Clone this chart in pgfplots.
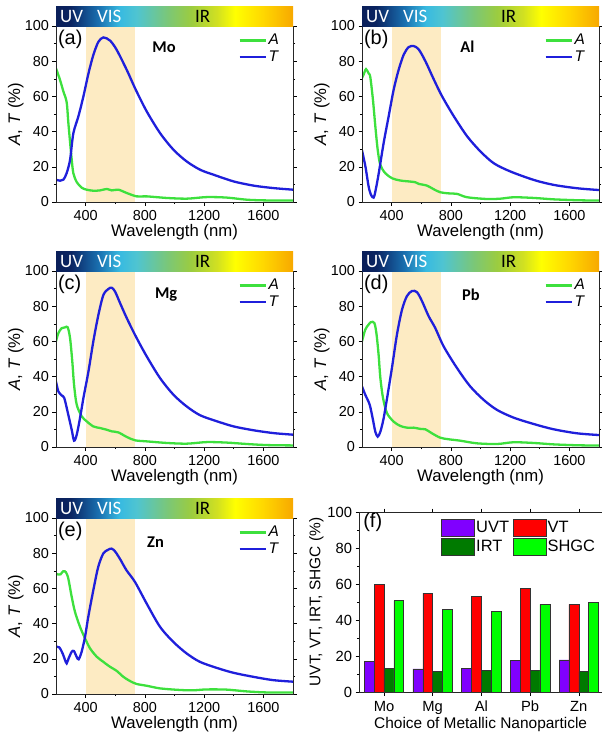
\documentclass[border=0pt]{standalone}
\usepackage{fontspec}
\setmainfont{Liberation Sans}
\newfontfamily\carl{Carlito}
\usepackage{pgfplots}
\pgfplotsset{compat=1.18}

\definecolor{Agreen}{HTML}{3DE03D}
\definecolor{Tblue}{HTML}{1F1FDB}
\definecolor{band}{HTML}{FDEBC3}
\definecolor{uvt}{HTML}{8000FF}
\definecolor{vt}{HTML}{FF0000}
\definecolor{irt}{HTML}{007A00}
\definecolor{shgc}{HTML}{00FF00}

% spectrum bar above each spectrum panel
\pgfdeclarehorizontalshading{spectrum}{100bp}{
  rgb(0bp)=(0.04,0.12,0.35); rgb(25bp)=(0.04,0.12,0.35);
  rgb(28bp)=(0.04,0.14,0.38); rgb(31bp)=(0.07,0.29,0.54);
  rgb(34bp)=(0.10,0.44,0.69); rgb(38.5bp)=(0.22,0.73,0.88);
  rgb(42bp)=(0.31,0.77,0.82); rgb(48.5bp)=(0.48,0.78,0.47);
  rgb(53.5bp)=(0.61,0.80,0.25); rgb(59bp)=(0.82,0.88,0.13);
  rgb(62.75bp)=(1,1,0); rgb(68.5bp)=(1,0.85,0);
  rgb(75bp)=(0.97,0.66,0); rgb(100bp)=(0.97,0.66,0)}

\newcommand{\specbar}[2]{%
  \begin{scope}[shift={(#1bp,-#2bp)}]
    \shade[shading=spectrum] (0,0) rectangle (237bp,20bp);
    \node[anchor=base west, inner sep=0, text=white, font=\carl\fontsize{19}{19}\selectfont] at (4bp,3.5bp) {UV};
    \node[anchor=base west, inner sep=0, text=white, font=\carl\fontsize{19}{19}\selectfont] at (41bp,3.5bp) {VIS};
    \node[anchor=base west, inner sep=0, text=black, font=\carl\fontsize{19}{19}\selectfont] at (139bp,3.5bp) {IR};
  \end{scope}}

\tikzset{
  plab/.style={font=\fontsize{20}{20}\selectfont, anchor=west, inner sep=0},
  mlab/.style={font=\carl\bfseries\fontsize{16.5}{17}\selectfont, inner sep=0},
}

\pgfplotsset{
  lineax/.style={
    scale only axis, width=237bp, height=176bp, anchor=south west,
    xmin=200, xmax=1800, ymin=0, ymax=100,
    xtick={400,800,1200,1600}, ytick={0,20,...,100},
    minor x tick num=1, minor y tick num=1,
    tick align=outside, major tick length=3.5bp, minor tick length=2bp,
    tick style={black, line width=0.6bp},
    axis line style={line width=0.8bp, black!85},
    axis on top,
    ticklabel style={font=\fontsize{14.5}{15}\selectfont},
    xticklabel style={yshift=-1bp},
    /pgf/number format/assume math mode=true,
    /pgf/number format/1000 sep={},
    label style={font=\fontsize{16.8}{17}\selectfont},
    xlabel={Wavelength (nm)}, ylabel={\textit{A}, \textit{T} (\%)},
    xlabel style={at={(axis description cs:0.5,-0.172)}, anchor=center},
    ylabel style={at={(axis description cs:-0.17,0.5)}, anchor=center},
    legend style={at={(axis description cs:0.95,0.965)}, anchor=north east,
      draw=none, fill=none, font=\fontsize{15.5}{15.5}\selectfont\itshape,
      inner sep=0pt, row sep=0.5bp, nodes={inner sep=2bp}, cells={anchor=west}},
    legend image code/.code={\draw[#1] (0bp,0bp) -- (26bp,0bp);},
  },
  Aline/.style={Agreen, line width=2.3bp, smooth, tension=0.5},
  Tline/.style={Tblue, line width=2.3bp, smooth, tension=0.5},
  bandfill/.style={fill=band, draw=none, forget plot},
}

\begin{document}
\begin{tikzpicture}
\path[use as bounding box] (0,0) rectangle (602bp,-733bp);

% (a) Mo
\begin{axis}[lineax, at={(56bp,-202bp)}]
\addplot[bandfill] coordinates {(400,100) (735,100)} \closedcycle;
\addplot[Aline] coordinates {(200,76)(227,69.4)(250,62.8)(272,56.7)(283,45.4)(295,34)(306,24.2)(317,16.4)(340,11.3)(374,8.1)(407,7)(452,6.4)(497,6.6)(543,7.4)(576,6.6)(621,7)(678,5.1)(745,3.2)(813,3.2)(948,2.3)(1083,1.9)(1219,2.8)(1354,2.5)(1489,1.3)(1624,0.9)(1800,0.9)};
\addplot[Tline] coordinates {(200,12.7)(227,12.1)(250,12.7)(272,16.4)(295,24)(317,39)(351,48.6)(385,60)(419,73)(452,83.5)(486,91)(520,93.5)(565,91.7)(610,86.4)(678,75)(739,63.7)(813,51.4)(903,39.1)(993,29.7)(1083,23)(1174,18.3)(1264,15.5)(1399,11.7)(1534,9.3)(1669,7.9)(1800,7.0)};
\legend{A,T}
\node[plab] at (rel axis cs:0.008,0.923) {(a)};
\node[mlab] at (rel axis cs:0.456,0.88) {Mo};
\end{axis}
\specbar{56}{26}

% (b) Al
\begin{axis}[lineax, at={(362bp,-202bp)}]
\addplot[bandfill] coordinates {(400,100) (735,100)} \closedcycle;
\addplot[Aline] coordinates {(200,70.5)(211,72.4)(227,75.5)(245,73)(256,71)(274,58)(290,43)(306,29.7)(324,21)(358,16.3)(403,13.5)(459,12.2)(527,11.6)(561,11.2)(583,10.3)(639,9.3)(685,7.2)(730,5.5)(786,4.9)(842,4.6)(910,2.7)(1045,1.7)(1135,1.9)(1225,2.7)(1361,2.3)(1496,1.5)(1654,1.0)(1800,0.8)};
\addplot[Tline] coordinates {(200,29.3)(223,20.2)(245,8.7)(261,4)(278,2.5)(290,5.9)(313,16.3)(346,33.5)(380,48.7)(414,63.9)(448,75.3)(482,83.8)(515,88)(549,88.6)(583,86.7)(628,80)(685,69.6)(741,60)(820,48.7)(910,37.3)(1000,28.7)(1090,22)(1203,17.3)(1361,12.5)(1496,9.7)(1654,7.8)(1800,6.8)};
\legend{A,T}
\node[plab] at (rel axis cs:0.008,0.923) {(b)};
\node[mlab] at (rel axis cs:0.445,0.88) {Al};
\end{axis}
\specbar{362}{26}

% (c) Mg
\begin{axis}[lineax, at={(56bp,-447bp)}]
\addplot[bandfill] coordinates {(400,100) (735,100)} \closedcycle;
\addplot[Aline] coordinates {(200,60)(216,64.7)(238,67.5)(261,68)(279,68)(295,61.8)(310,48.6)(322,35.3)(340,24)(374,17.4)(407,14.6)(452,11.7)(497,10.8)(543,9.8)(576,8.9)(621,8.3)(678,5.7)(734,3.8)(813,3.2)(948,2.3)(1083,1.9)(1219,2.8)(1354,2.5)(1489,1.7)(1624,1.1)(1800,0.9)};
\addplot[Tline] coordinates {(200,37.2)(216,31.6)(238,29.3)(256,27.8)(283,18.3)(306,9.8)(322,3.6)(340,7)(362,16.4)(385,27.8)(419,42.9)(452,60)(486,75)(520,86.4)(554,89.8)(576,90.5)(599,88.3)(633,81.7)(678,73.2)(739,62.8)(813,51.4)(903,39.1)(993,29.7)(1083,23)(1174,18)(1287,14.6)(1399,11.7)(1534,9.5)(1669,7.9)(1800,7)};
\legend{A,T}
\node[plab] at (rel axis cs:0.008,0.923) {(c)};
\node[mlab] at (rel axis cs:0.465,0.865) {Mg};
\end{axis}
\specbar{56}{271}

% (d) Pb
\begin{axis}[lineax, at={(362bp,-447bp)}]
\addplot[bandfill] coordinates {(400,100) (735,100)} \closedcycle;
\addplot[Aline] coordinates {(200,60)(222,66.7)(245,69.6)(261,71)(283,70.5)(297,64.8)(312,52.5)(324,39.2)(342,27.8)(369,19.2)(414,14.4)(458,12)(503,11)(548,11)(593,10.3)(627,10.1)(672,7.8)(728,5.3)(784,4.4)(863,3.6)(975,2.1)(1111,1.7)(1223,2.7)(1358,2.3)(1492,1.5)(1650,1)(1800,0.8)};
\addplot[Tline] coordinates {(200,34.4)(222,29.7)(252,24)(274,15.4)(290,8.7)(306,5.9)(324,8.7)(346,16.3)(373,29.7)(402,44.9)(436,63.9)(470,78)(503,85.7)(537,88.6)(571,88)(605,82.9)(650,74.3)(694,67.7)(751,57.2)(841,44.9)(931,34.4)(1021,26.8)(1111,21.1)(1223,16.7)(1358,13.1)(1492,10.1)(1650,7.8)(1800,6.8)};
\legend{A,T}
\node[plab] at (rel axis cs:0.008,0.923) {(d)};
\node[mlab] at (rel axis cs:0.46,0.865) {Pb};
\end{axis}
\specbar{362}{271}

% (e) Zn
\begin{axis}[lineax, at={(56bp,-694bp)}]
\addplot[bandfill] coordinates {(400,100) (735,100)} \closedcycle;
\addplot[Aline] coordinates {(200,68.4)(216,67.9)(231,68)(249,69.8)(267,69.2)(283,65.6)(306,55.2)(328,46.7)(362,38.2)(396,31.6)(430,25.9)(475,21.2)(519,18.3)(564,15.5)(609,13.2)(654,9.8)(699,7.4)(744,5.7)(812,4.7)(902,3.2)(1036,2.3)(1126,2.1)(1216,2.6)(1351,2.5)(1485,1.5)(1620,0.9)(1800,0.9)};
\addplot[Tline] coordinates {(200,26.8)(222,26.5)(245,23)(261,19.3)(272,17.4)(285,20.2)(306,24)(321,24.4)(339,21.2)(353,19.7)(373,24)(396,32.5)(418,43.9)(452,59)(485,72.2)(519,79.8)(553,82)(575,82.6)(598,81.1)(631,76.9)(676,70.3)(733,63.7)(812,51.4)(902,38.2)(991,29.7)(1081,23.1)(1171,18.3)(1283,14.9)(1396,12.1)(1530,9.8)(1665,7.9)(1800,7)};
\legend{A,T}
\node[plab] at (rel axis cs:0.008,0.923) {(e)};
\node[mlab] at (rel axis cs:0.42,0.865) {Zn};
\end{axis}
\specbar{56}{518}

% (f) bars
\begin{axis}[
  scale only axis, width=258.8bp, height=180bp, anchor=south west, at={(359bp,-692bp)},
  xmin=-0.513, xmax=4.8, ymin=0, ymax=100,
  ybar=0pt, bar width=0.2023,
  xtick={0,...,4}, xticklabels={Mo,Mg,Al,Pb,Zn},
  ytick={0,20,...,100}, minor y tick num=1,
  tick align=outside, major tick length=3.5bp, minor tick length=2bp,
  tick style={black, line width=0.6bp},
  axis line style={line width=0.8bp, black!85},
  ticklabel style={font=\fontsize{14.8}{15}\selectfont},
  xticklabel style={yshift=-2bp},
  /pgf/number format/assume math mode=true,
  label style={font=\fontsize{15.5}{16}\selectfont},
  xlabel={Choice of Metallic Nanoparticle}, ylabel={UVT, VT, IRT, SHGC (\%)},
  xlabel style={at={(axis description cs:0.47,-0.182)}, anchor=center},
  ylabel style={at={(axis description cs:-0.165,0.5)}, anchor=center},
  legend columns=2,
  legend style={at={(axis description cs:0.317,0.961)}, anchor=north west,
    draw=none, fill=none, font=\fontsize{16.5}{16.5}\selectfont,
    inner sep=0pt, row sep=1bp, nodes={inner sep=1.5bp}, cells={anchor=west},
    /tikz/every even column/.append style={column sep=2bp}},
  legend image code/.code={\draw[#1, draw=black!80] (0bp,-8.5bp) rectangle (33bp,8.5bp);},
]
\addplot[fill=uvt, draw=black!80, line width=0.5bp] coordinates {(0,17.0)(1,12.9)(2,13.3)(3,17.7)(4,17.9)};
\addplot[fill=vt, draw=black!80, line width=0.5bp] coordinates {(0,59.6)(1,55.0)(2,53.0)(3,57.4)(4,48.7)};
\addplot[fill=irt, draw=black!80, line width=0.5bp] coordinates {(0,13.1)(1,11.4)(2,12.2)(3,12.2)(4,11.3)};
\addplot[fill=shgc, draw=black!80, line width=0.5bp] coordinates {(0,50.7)(1,46.1)(2,45.0)(3,48.7)(4,49.8)};
\legend{UVT,VT,IRT,SHGC}
\node[plab] at (rel axis cs:0.016,0.94) {(f)};
\end{axis}
\end{tikzpicture}
\end{document}
